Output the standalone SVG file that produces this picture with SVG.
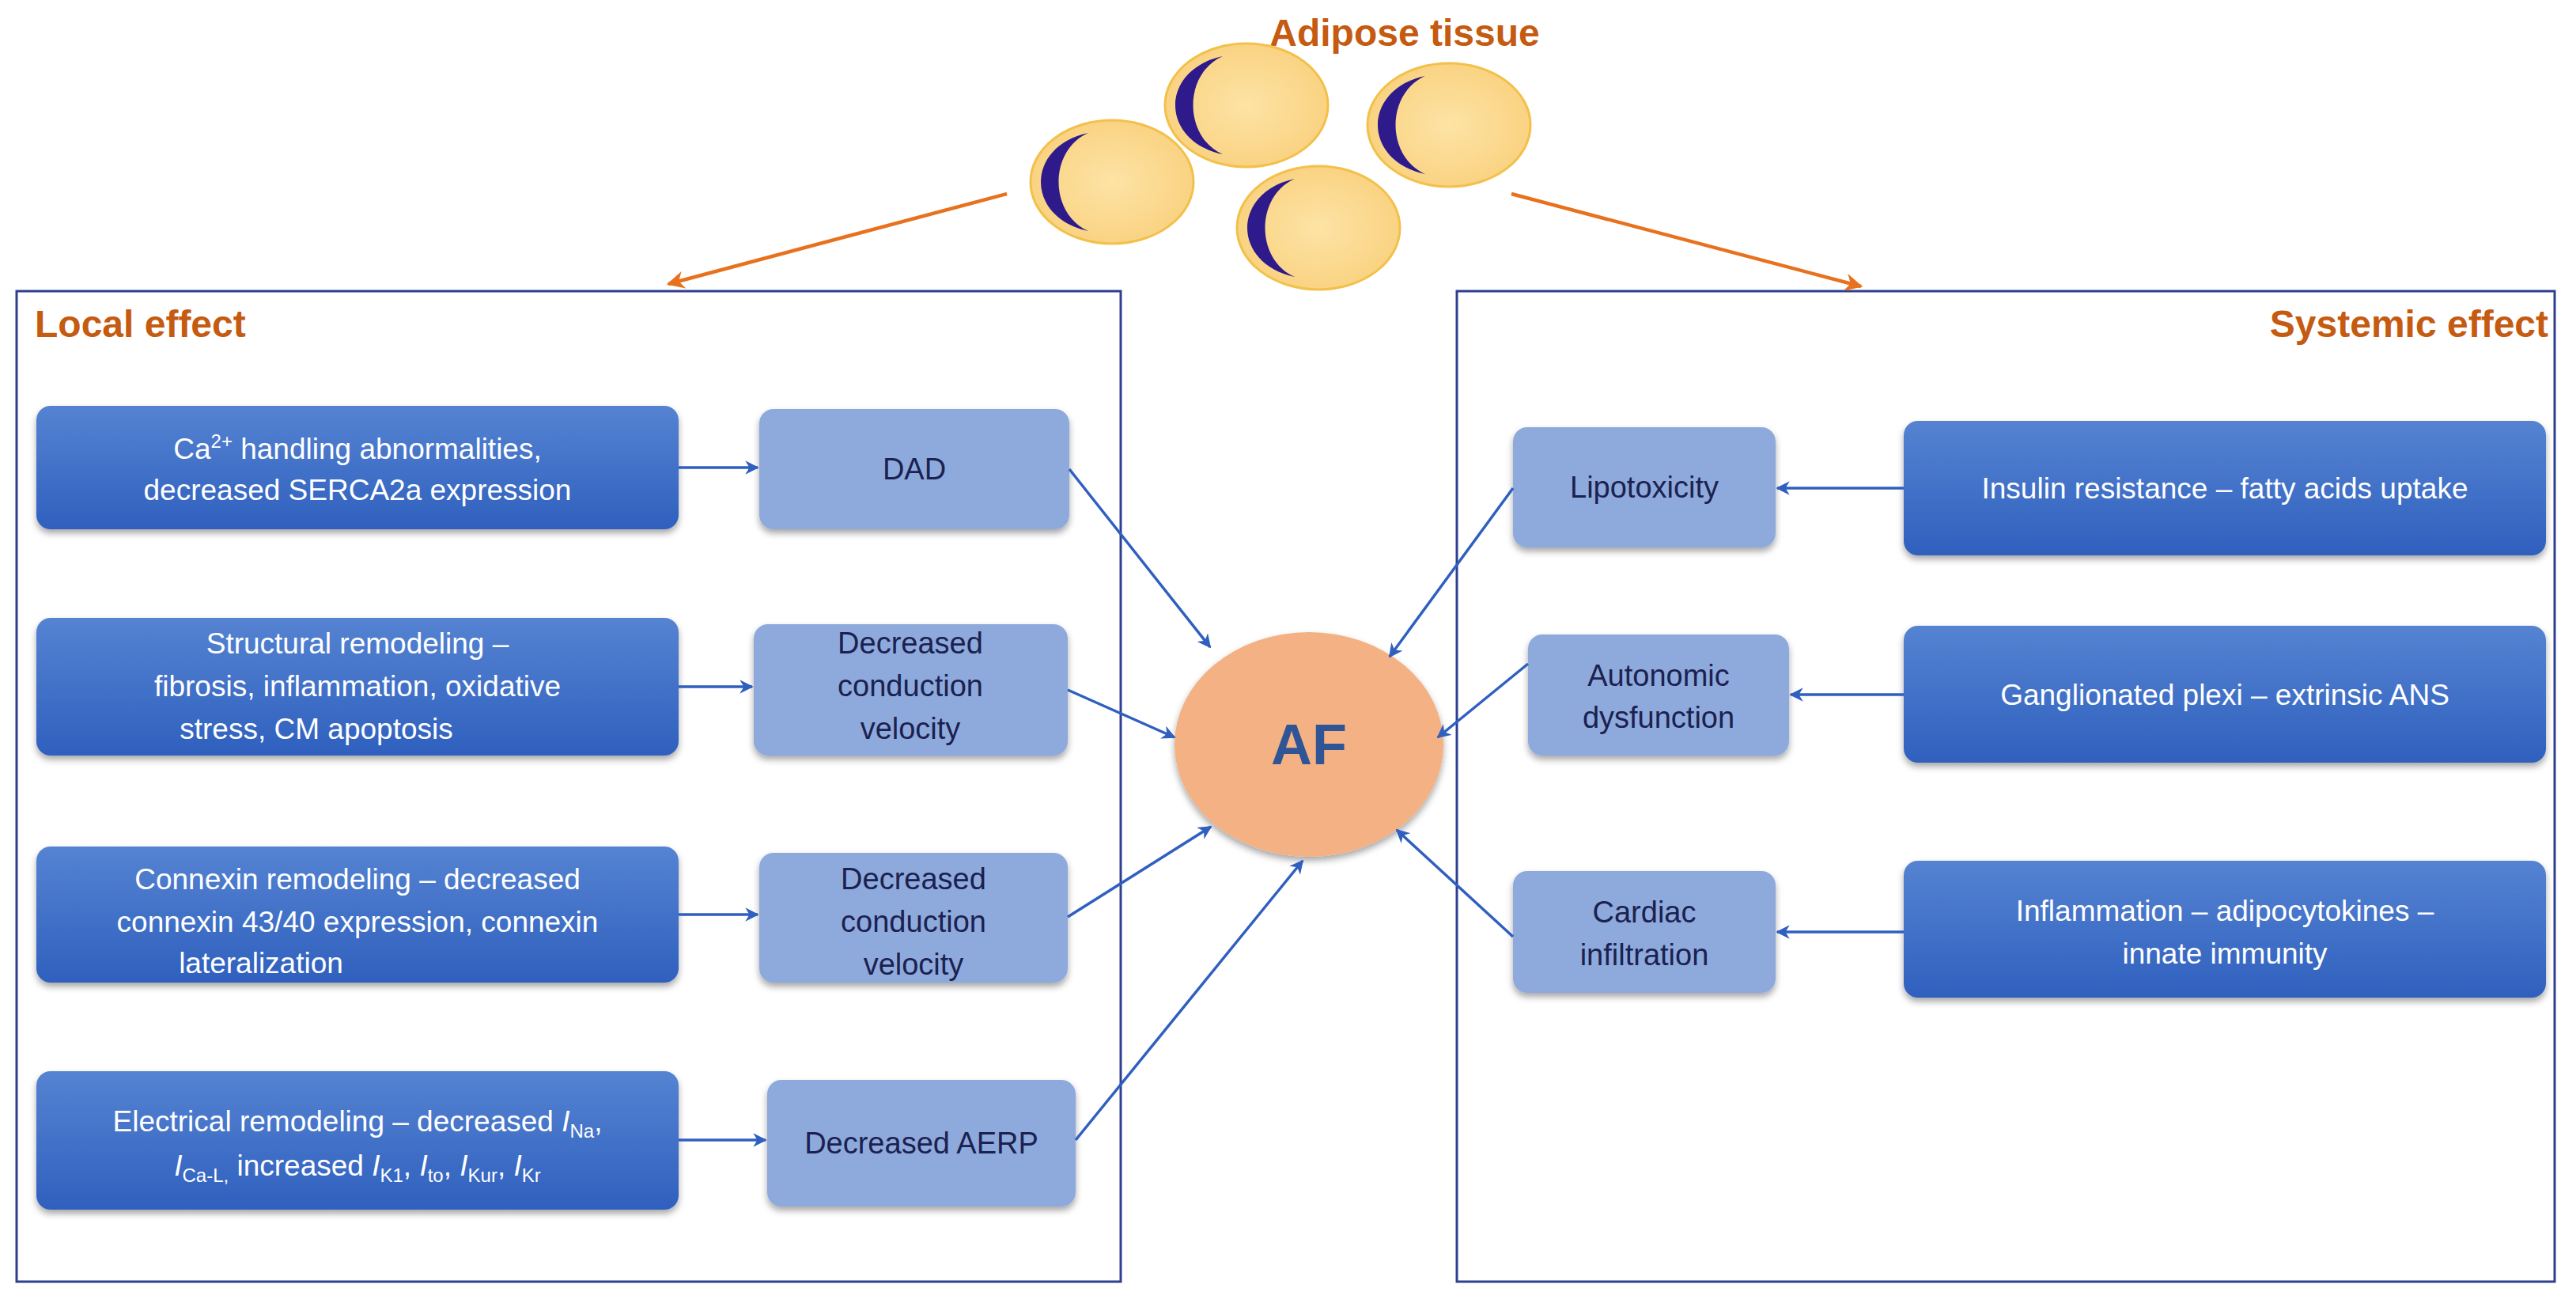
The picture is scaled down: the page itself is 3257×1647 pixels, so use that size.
<svg xmlns="http://www.w3.org/2000/svg" width="3257" height="1647" viewBox="0 0 3257 1647">
<style>
.frame{fill:none;stroke:#2f3f8f;stroke-width:3}
.title{font-family:"Liberation Sans",Arial,sans-serif;font-weight:bold;fill:#c55a11;font-size:48px}
.dark{fill:url(#gDark);filter:url(#sh)}
.light{fill:#8eaadc;filter:url(#sh)}
.tw{font-family:"Liberation Sans",Arial,sans-serif;font-size:37px;fill:#fff;text-anchor:middle}
.tb{font-family:"Liberation Sans",Arial,sans-serif;font-size:38px;fill:#1b2150;text-anchor:middle}
.con{stroke:#2f5fbf;stroke-width:3.5;fill:none;marker-end:url(#ab)}
.oc{stroke:#e8711d;stroke-width:4.5;fill:none;marker-end:url(#ao)}
.cell{fill:url(#gCell);stroke:#f3c04a;stroke-width:3}
.cres{fill:#2e1a8a}
</style>
<defs>
<linearGradient id="gDark" x1="0" y1="0" x2="0" y2="1"><stop offset="0" stop-color="#5583d2"/><stop offset="1" stop-color="#2f60be"/></linearGradient>
<radialGradient id="gCell" cx="0.5" cy="0.5" r="0.6"><stop offset="0" stop-color="#fde3a5"/><stop offset="1" stop-color="#f9d07c"/></radialGradient>
<filter id="sh" x="-5%" y="-10%" width="110%" height="130%"><feDropShadow dx="0" dy="5" stdDeviation="4" flood-color="#000" flood-opacity="0.35"/></filter>
<marker id="ab" viewBox="0 0 10 10" refX="9" refY="5" markerWidth="5" markerHeight="5" orient="auto"><path d="M0,0 L10,5 L0,10 L3,5 Z" fill="#2f5fbf"/></marker>
<marker id="ao" viewBox="0 0 10 10" refX="9" refY="5" markerWidth="5" markerHeight="5" orient="auto"><path d="M0,0 L10,5 L0,10 L3,5 Z" fill="#e8711d"/></marker>
</defs>
<rect width="3257" height="1647" fill="#fff"/>

<g id="adipose">
<text class="title" x="1776" y="58" text-anchor="middle" font-size="44">Adipose tissue</text>
<g id="cellA"><ellipse class="cell" cx="1406" cy="230" rx="103" ry="78"/><path class="cres" d="M1376,168 C1296,185 1296,275 1376,292 C1326,270 1326,190 1376,168 Z"/></g>
<g id="cellB"><ellipse class="cell" cx="1576" cy="133" rx="103" ry="78"/><path class="cres" d="M1546,71 C1466,88 1466,178 1546,195 C1496,173 1496,93 1546,71 Z"/></g>
<g id="cellD"><ellipse class="cell" cx="1832" cy="158" rx="103" ry="78"/><path class="cres" d="M1802,96 C1722,113 1722,203 1802,220 C1752,198 1752,118 1802,96 Z"/></g>
<g id="cellC"><ellipse class="cell" cx="1667" cy="288" rx="103" ry="78"/><path class="cres" d="M1637,226 C1557,243 1557,333 1637,350 C1587,328 1587,248 1637,226 Z"/></g>
</g>

<g id="localBox"><rect class="frame" x="21" y="368" width="1396" height="1252"/><text class="title" x="44" y="426">Local effect</text></g>
<g id="systemicBox"><rect class="frame" x="1842" y="368" width="1388" height="1252"/><text class="title" x="3222" y="426" text-anchor="end">Systemic effect</text></g>

<g id="n_ca"><rect class="dark" x="46" y="513" width="812" height="156" rx="18"/>
<text class="tw" x="452" y="580">Ca<tspan font-size="24" dy="-14">2+</tspan><tspan dy="14"> handling abnormalities,</tspan></text>
<text class="tw" x="452" y="632">decreased SERCA2a expression</text></g>
<g id="n_dad"><rect class="light" x="960" y="517" width="392" height="152" rx="18"/><text class="tb" x="1156" y="606">DAD</text></g>

<g id="n_struct"><rect class="dark" x="46" y="781" width="812" height="174" rx="18"/>
<text class="tw" x="452" y="826">Structural remodeling –</text>
<text class="tw" x="452" y="880">fibrosis, inflammation, oxidative</text>
<text class="tw" x="400" y="934">stress, CM apoptosis</text></g>
<g id="n_dcv1"><rect class="light" x="953" y="789" width="397" height="166" rx="18"/>
<text class="tb" x="1151" y="826">Decreased</text><text class="tb" x="1151" y="880">conduction</text><text class="tb" x="1151" y="934">velocity</text></g>

<g id="n_conn"><rect class="dark" x="46" y="1070" width="812" height="172" rx="18"/>
<text class="tw" x="452" y="1124">Connexin remodeling – decreased</text>
<text class="tw" x="452" y="1178">connexin 43/40 expression, connexin</text>
<text class="tw" x="330" y="1230">lateralization</text></g>
<g id="n_dcv2"><rect class="light" x="960" y="1078" width="390" height="164" rx="18"/>
<text class="tb" x="1155" y="1124">Decreased</text><text class="tb" x="1155" y="1178">conduction</text><text class="tb" x="1155" y="1232">velocity</text></g>

<g id="n_elec"><rect class="dark" x="46" y="1354" width="812" height="175" rx="18"/>
<text class="tw" x="452" y="1430">Electrical remodeling – decreased <tspan font-style="italic">I</tspan><tspan font-size="24" dy="8">Na</tspan><tspan dy="-8">,</tspan></text>
<text class="tw" x="452" y="1486"><tspan font-style="italic">I</tspan><tspan font-size="24" dy="8">Ca-L,</tspan><tspan dy="-8"> increased </tspan><tspan font-style="italic">I</tspan><tspan font-size="24" dy="8">K1</tspan><tspan dy="-8">, </tspan><tspan font-style="italic">I</tspan><tspan font-size="24" dy="8">to</tspan><tspan dy="-8">, </tspan><tspan font-style="italic">I</tspan><tspan font-size="24" dy="8">Kur</tspan><tspan dy="-8">, </tspan><tspan font-style="italic">I</tspan><tspan font-size="24" dy="8">Kr</tspan></text></g>
<g id="n_aerp"><rect class="light" x="970" y="1365" width="390" height="160" rx="18"/><text class="tb" x="1165" y="1458">Decreased AERP</text></g>

<g id="n_af"><ellipse cx="1655" cy="941" rx="170" ry="142" fill="#f4b183" filter="url(#sh)"/>
<text x="1655" y="966" text-anchor="middle" font-family="Liberation Sans,Arial,sans-serif" font-weight="bold" font-size="72" fill="#2f5597">AF</text></g>

<g id="n_lipo"><rect class="light" x="1913" y="540" width="332" height="152" rx="18"/><text class="tb" x="2079" y="629">Lipotoxicity</text></g>
<g id="n_auto"><rect class="light" x="1932" y="802" width="330" height="153" rx="18"/><text class="tb" x="2097" y="867">Autonomic</text><text class="tb" x="2097" y="920">dysfunction</text></g>
<g id="n_card"><rect class="light" x="1913" y="1101" width="332" height="154" rx="18"/><text class="tb" x="2079" y="1166">Cardiac</text><text class="tb" x="2079" y="1220">infiltration</text></g>

<g id="n_ins"><rect class="dark" x="2407" y="532" width="812" height="170" rx="18"/><text class="tw" x="2813" y="630">Insulin resistance – fatty acids uptake</text></g>
<g id="n_gang"><rect class="dark" x="2407" y="791" width="812" height="173" rx="18"/><text class="tw" x="2813" y="891">Ganglionated plexi – extrinsic ANS</text></g>
<g id="n_infl"><rect class="dark" x="2407" y="1088" width="812" height="173" rx="18"/><text class="tw" x="2813" y="1164">Inflammation – adipocytokines –</text><text class="tw" x="2813" y="1218">innate immunity</text></g>

<g id="connectors">
<line class="oc" x1="1273" y1="245" x2="845" y2="359"/>
<line class="oc" x1="1911" y1="245" x2="2353" y2="362"/>
<line class="con" x1="858" y1="591" x2="958" y2="591"/>
<line class="con" x1="858" y1="868" x2="951" y2="868"/>
<line class="con" x1="858" y1="1156" x2="958" y2="1156"/>
<line class="con" x1="858" y1="1441" x2="968" y2="1441"/>
<line class="con" x1="1352" y1="593" x2="1530" y2="818"/>
<line class="con" x1="1350" y1="872" x2="1485" y2="932"/>
<line class="con" x1="1350" y1="1159" x2="1531" y2="1045"/>
<line class="con" x1="1360" y1="1441" x2="1647" y2="1088"/>
<line class="con" x1="1913" y1="617" x2="1757" y2="830"/>
<line class="con" x1="1932" y1="839" x2="1818" y2="932"/>
<line class="con" x1="1913" y1="1184" x2="1766" y2="1049"/>
<line class="con" x1="2407" y1="617" x2="2247" y2="617"/>
<line class="con" x1="2407" y1="878" x2="2264" y2="878"/>
<line class="con" x1="2407" y1="1178" x2="2247" y2="1178"/>
</g>
</svg>
